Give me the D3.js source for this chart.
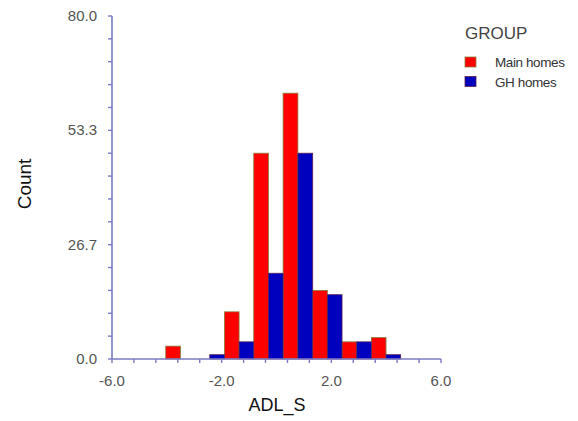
<!DOCTYPE html>
<html><head><meta charset="utf-8">
<script src="https://cdn.jsdelivr.net/npm/d3@7"></script>
<style>body{margin:0;background:#fff}svg{display:block}</style>
</head><body>
<svg id="c" width="578" height="421"></svg>
<script>
const binEdges = [-4.04, -2.97, -1.90, -0.83, 0.24, 1.32, 2.39, 3.46, 4.53];
const groups = ["Main homes", "GH homes"];
const mainCounts = [3, 0, 11, 48, 62, 16, 4, 5];
const ghCounts   = [0, 1, 4, 20, 48, 15, 4, 1];
const xLabelTicks = [-6, -2, 2, 6];
const yLabelTicks = [0, 26.7, 53.3, 80];
const colors = ["#ff0000", "#0000bf"];
const strokes = ["#8a7d3a", "#5a2050"];

const svg = d3.select("#c");
const x = d3.scaleLinear().domain([-6, 6]).range([112, 441]);
const y = d3.scaleLinear().domain([0, 80]).range([359, 16]);
const axisColor = "#7a7ac6";
const labelColor = "#555";
const fmt = d => d3.format(".1f")(d).replace("\u2212", "-");
const font = "Liberation Sans, Arial, sans-serif";

// bars
const series = [mainCounts, ghCounts];
series.forEach((vals, s) => {
  svg.append("g").selectAll("rect").data(vals).join("rect")
    .attr("x", (d, i) => { const a = x(binEdges[i]), b = x(binEdges[i + 1]); return a + (b - a) / 2 * s; })
    .attr("width", (d, i) => (x(binEdges[i + 1]) - x(binEdges[i])) / 2)
    .attr("y", d => y(d))
    .attr("height", d => y(0) - y(d))
    .attr("fill", colors[s])
    .attr("stroke", d => d > 0 ? strokes[s] : "none")
    .attr("stroke-width", 0.8);
});

// x axis
const xMinor = d3.range(0, 16).map(i => -6 + i * 0.8);
const gx = svg.append("g");
gx.append("line").attr("x1", x(-6)).attr("x2", x(6)).attr("y1", y(0)).attr("y2", y(0))
  .attr("stroke", axisColor).attr("stroke-width", 1.6);
gx.selectAll("line.t").data(xMinor).join("line").attr("class", "t")
  .attr("x1", d => x(d)).attr("x2", d => x(d)).attr("y1", y(0)).attr("y2", y(0) + 4)
  .attr("stroke", axisColor).attr("stroke-width", 1.4);
gx.selectAll("text").data(xLabelTicks).join("text")
  .attr("x", d => x(d)).attr("y", 386).attr("text-anchor", "middle")
  .attr("font-family", font).attr("font-size", 15)
  .attr("fill", labelColor).text(fmt);

// y axis
const yMinor = d3.range(0, 16).map(i => i * 80 / 15);
const gy = svg.append("g");
gy.append("line").attr("x1", x(-6)).attr("x2", x(-6)).attr("y1", y(0)).attr("y2", y(80))
  .attr("stroke", axisColor).attr("stroke-width", 1.6);
gy.selectAll("line.t").data(yMinor).join("line").attr("class", "t")
  .attr("x1", x(-6) - 4).attr("x2", x(-6)).attr("y1", d => y(d)).attr("y2", d => y(d))
  .attr("stroke", axisColor).attr("stroke-width", 1.4);
gy.selectAll("text").data(yLabelTicks).join("text")
  .attr("x", 97).attr("y", d => y(d) + 5).attr("text-anchor", "end")
  .attr("font-family", font).attr("font-size", 15)
  .attr("fill", labelColor).text(fmt);

// titles
svg.append("text").attr("x", 277).attr("y", 411).attr("text-anchor", "middle")
  .attr("font-family", font).attr("font-size", 18)
  .attr("fill", "#111").text("ADL_S");
svg.append("text").attr("transform", "translate(31,184) rotate(-90)").attr("text-anchor", "middle")
  .attr("font-family", font).attr("font-size", 19)
  .attr("fill", "#111").text("Count");

// legend
svg.append("text").attr("x", 465).attr("y", 39)
  .attr("font-family", font).attr("font-size", 17)
  .attr("fill", "#444").text("GROUP");
groups.forEach((g, i) => {
  svg.append("rect").attr("x", 465).attr("y", 57 + i * 19.5).attr("width", 11).attr("height", 10)
    .attr("fill", colors[i]).attr("stroke", strokes[i]).attr("stroke-width", 0.8);
  svg.append("text").attr("x", 495).attr("y", 67 + i * 19.5)
    .attr("font-family", font).attr("font-size", 13.5)
    .attr("letter-spacing", "-0.4").attr("fill", "#333").text(g);
});
</script>
</body></html>
